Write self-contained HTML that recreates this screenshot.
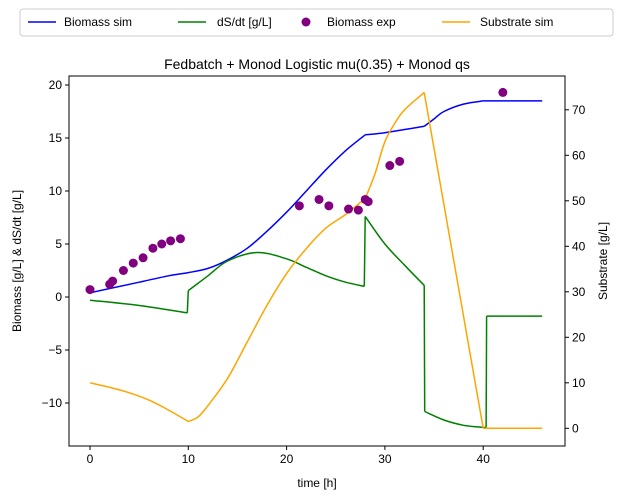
<!DOCTYPE html>
<html><head><meta charset="utf-8"><style>
body{margin:0;background:#fff}
svg{font-family:"Liberation Sans","DejaVu Sans",sans-serif;display:block}
</style></head><body>
<svg id="chart" width="623" height="499">
<g id="plot"></g>
</svg>
<script>
const timeSim=[0,2,5,8,10,12,14,16,18,20,22,24,26,28,30,32,34,35,36,38,40,46];
const biomassSim=[0.4,0.8,1.4,2.0,2.3,2.7,3.5,4.6,6.2,8.0,10,12,13.8,15.3,15.5,15.8,16.1,16.8,17.5,18.2,18.5,18.5];
const biomassKinks=[28,34,40];
const timeSub=[0,2,4,6,8,10,11,12,14,16,18,20,22,24,26,28,29,30,31,32,34,40,46];
const substrateSim=[10,9,7.8,6.2,4,1.5,2.5,5,11,19,27,34,39.5,44,47,50.5,56,63,67,70,73.8,0,0];
const substrateKinks=[10,28,34,40];
const timeDs=[0,5,9.9,10,12,14,17,20,22,24,26,27.9,28,30,32,34,34.05,36,38,40,40.3,40.35,46];
const dsdt=[-0.3,-0.8,-1.5,0.6,2.0,3.4,4.2,3.6,2.8,2.0,1.4,1.0,7.6,5.0,3.0,1.1,-10.8,-11.6,-12.1,-12.3,-12.3,-1.8,-1.8];
const dsKinks=[9.9,10,27.9,28,34,34.05,40.3,40.35];
const timeExp=[0,2,2.3,3.4,4.4,5.4,6.4,7.3,8.2,9.2,21.3,23.3,24.3,26.3,27.3,28,28.3,30.5,31.5,42];
const biomassExp=[0.7,1.2,1.5,2.5,3.2,3.7,4.6,5.0,5.3,5.5,8.6,9.2,8.6,8.3,8.2,9.2,9.0,12.4,12.8,19.3];
const xTicks=[0,10,20,30,40];
const yTicks=[-10,-5,0,5,10,15,20];
const y2Ticks=[0,10,20,30,40,50,60,70];

const L=69,R=565,T=76,B=446;
const xs=t=>90+t*9.83;
const yl=v=>297-v*10.6;
const yr=v=>428.3-v*4.55;
const NS="http://www.w3.org/2000/svg";
const svg=document.getElementById('chart');
function mk(tag,attrs,parent){const e=document.createElementNS(NS,tag);for(const k in attrs)e.setAttribute(k,attrs[k]);(parent||svg).appendChild(e);return e;}
function txt(s,attrs){const e=mk('text',attrs);e.textContent=s;return e;}

function smoothPath(pts){
  let d='M'+pts[0][0].toFixed(1)+','+pts[0][1].toFixed(1);
  for(let i=0;i<pts.length-1;i++){
    const p0=pts[i-1]||pts[i],p1=pts[i],p2=pts[i+1],p3=pts[i+2]||pts[i+1];
    const c1=[p1[0]+(p2[0]-p0[0])/6,p1[1]+(p2[1]-p0[1])/6];
    const c2=[p2[0]-(p3[0]-p1[0])/6,p2[1]-(p3[1]-p1[1])/6];
    d+='C'+c1[0].toFixed(1)+','+c1[1].toFixed(1)+' '+c2[0].toFixed(1)+','+c2[1].toFixed(1)+' '+p2[0].toFixed(1)+','+p2[1].toFixed(1);
  }
  return d;
}
function line(xsArr,ysArr,kinks,fy,color,name){
  let d='',piece=[];
  xsArr.forEach((t,i)=>{
    piece.push([xs(t),fy(ysArr[i])]);
    if(kinks.includes(t)&&i<xsArr.length-1){d+=smoothPath(piece);piece=[[xs(t),fy(ysArr[i])]];}
  });
  if(piece.length>1)d+=smoothPath(piece);
  const p=mk('path',{d:d,fill:'none',stroke:color,'stroke-width':1.5,'stroke-linejoin':'round'});
  
  
}
line(timeSim,biomassSim,biomassKinks,yl,'#0000ff','biomass-sim-line');
line(timeDs,dsdt,dsKinks,yl,'#008000','dsdt-line');
line(timeSub,substrateSim,substrateKinks,yr,'#ffa500','substrate-sim-line');
timeExp.forEach((t,i)=>{
  const c=mk('circle',{cx:xs(t),cy:yl(biomassExp[i]),r:4.5,fill:'#800080'});
  
  
});

const fr=mk('rect',{x:L,y:T,width:R-L,height:B-T,fill:'none',stroke:'#000','stroke-width':1});



xTicks.forEach(t=>{
  mk('line',{x1:xs(t),x2:xs(t),y1:B,y2:B+4,stroke:'#000'});
  const e=txt(String(t),{x:xs(t),y:B+17,'text-anchor':'middle','font-size':12});
  
  
});
yTicks.forEach(v=>{
  mk('line',{x1:L-4,x2:L,y1:yl(v),y2:yl(v),stroke:'#000'});
  const e=txt(v<0?'\u2212'+(-v):String(v),{x:L-7,y:yl(v)+4,'text-anchor':'end','font-size':12});
  
  
});
y2Ticks.forEach(v=>{
  mk('line',{x1:R,x2:R+4,y1:yr(v),y2:yr(v),stroke:'#000'});
  const e=txt(String(v),{x:R+7,y:yr(v)+4,'font-size':12});
  
  
});
</script>
<svg style="position:absolute;left:0;top:0" width="623" height="499">
<text x="317" y="69" text-anchor="middle" font-size="14">Fedbatch + Monod Logistic mu(0.35) + Monod qs</text>
<text x="317" y="487" text-anchor="middle" font-size="12">time [h]</text>
<text transform="translate(21,261) rotate(-90)" text-anchor="middle" font-size="12">Biomass [g/L] &amp; dS/dt [g/L]</text>
<text transform="translate(607,261) rotate(-90)" text-anchor="middle" font-size="12">Substrate [g/L]</text>
<g>
<rect x="20" y="9" width="593" height="27" rx="3" fill="#fff" stroke="#ccc"/>
<line x1="28" x2="56" y1="22" y2="22" stroke="#0000ff" stroke-width="1.5"/>
<text x="64" y="26" font-size="12">Biomass sim</text>
<line x1="178" x2="206" y1="22" y2="22" stroke="#008000" stroke-width="1.5"/>
<text x="217" y="26" font-size="12">dS/dt [g/L]</text>
<circle cx="306" cy="22" r="4.5" fill="#800080"/>
<text x="327" y="26" font-size="12">Biomass exp</text>
<line x1="442" x2="470" y1="22" y2="22" stroke="#ffa500" stroke-width="1.5"/>
<text x="480" y="26" font-size="12">Substrate sim</text>
</g>
</svg>
</body></html>
